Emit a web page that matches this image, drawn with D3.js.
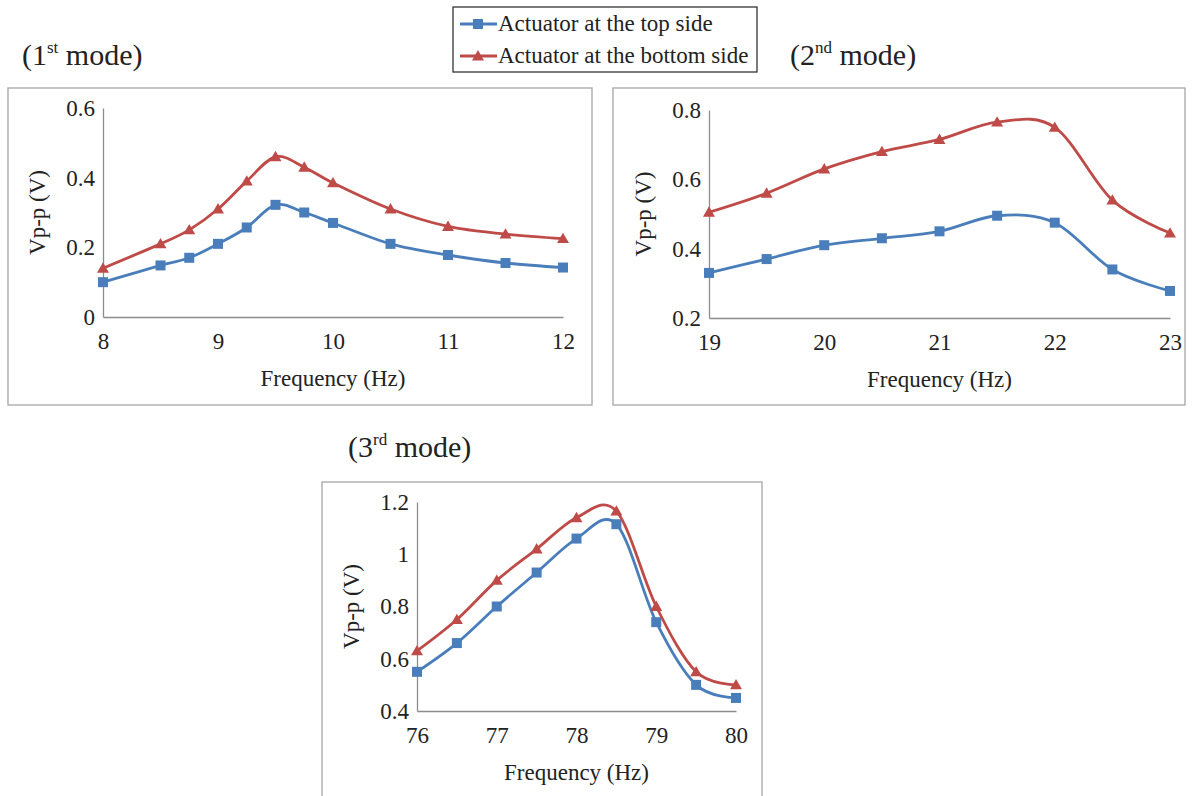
<!DOCTYPE html>
<html>
<head>
<meta charset="utf-8">
<script src="https://cdn.jsdelivr.net/npm/d3@7"></script>
<style>
  body { margin: 0; background: #fff; }
  text { font-family: "Liberation Serif", "Times New Roman", serif; fill: #222; }
</style>
</head>
<body>
<script>
const w = 1192;
const h = 796;
const blue = "#4a7ebb";
const red = "#be4b48";
const serif = "'Liberation Serif', 'Times New Roman', serif";

// 1st mode
const freq1 = [8, 8.5, 8.75, 9, 9.25, 9.5, 9.75, 10, 10.5, 11, 11.5, 12];
const top1 = [0.10, 0.148, 0.17, 0.21, 0.257, 0.322, 0.30, 0.27, 0.21, 0.178, 0.155, 0.142];
const bottom1 = [0.14, 0.21, 0.25, 0.31, 0.39, 0.46, 0.43, 0.385, 0.31, 0.26, 0.238, 0.225];
const xTicks1 = [8, 9, 10, 11, 12];
const yTicks1 = [0, 0.2, 0.4, 0.6];

// 2nd mode
const freq2 = [19, 19.5, 20, 20.5, 21, 21.5, 22, 22.5, 23];
const top2 = [0.33, 0.37, 0.41, 0.43, 0.45, 0.495, 0.475, 0.34, 0.278];
const bottom2 = [0.505, 0.56, 0.63, 0.68, 0.715, 0.765, 0.75, 0.54, 0.445];
const xTicks2 = [19, 20, 21, 22, 23];
const yTicks2 = [0.2, 0.4, 0.6, 0.8];

// 3rd mode
const freq3 = [76, 76.5, 77, 77.5, 78, 78.5, 79, 79.5, 80];
const top3 = [0.55, 0.66, 0.80, 0.93, 1.06, 1.115, 0.74, 0.50, 0.45];
const bottom3 = [0.63, 0.75, 0.90, 1.02, 1.14, 1.165, 0.80, 0.55, 0.50];
const xTicks3 = [76, 77, 78, 79, 80];
const yTicks3 = [0.4, 0.6, 0.8, 1, 1.2];

const seriesNames = ["Actuator at the top side", "Actuator at the bottom side"];

const svg = d3.select("body")
  .append("svg")
  .attr("width", w)
  .attr("height", h);

const fmt = d => String(+d.toFixed(1));

function marker(g, kind, x, y, color) {
  if (kind === "square") {
    g.append("rect")
      .attr("x", x - 5).attr("y", y - 5)
      .attr("width", 10).attr("height", 10)
      .attr("fill", color);
  } else {
    g.append("path")
      .attr("d", d3.symbol(d3.symbolTriangle, 62)())
      .attr("transform", "translate(" + x + "," + (y + 1) + ")")
      .attr("fill", color);
  }
}

function panel(cfg) {
  const g = svg.append("g");

  g.append("rect")
    .attr("x", cfg.box[0]).attr("y", cfg.box[1])
    .attr("width", cfg.box[2]).attr("height", cfg.box[3])
    .attr("fill", "none")
    .attr("stroke", "#a6a6a6")
    .attr("stroke-width", 1.3);

  const x = d3.scaleLinear().domain(cfg.xDomain).range([cfg.left, cfg.right]);
  const y = d3.scaleLinear().domain(cfg.yDomain).range([cfg.bottom, cfg.top]);

  const xAxis = g.append("g")
    .attr("transform", "translate(0," + cfg.bottom + ")")
    .call(d3.axisBottom(x).tickValues(cfg.xTicks).tickSize(0).tickPadding(16).tickFormat(d => d));
  const yAxis = g.append("g")
    .attr("transform", "translate(" + cfg.left + ",0)")
    .call(d3.axisLeft(y).tickValues(cfg.yTicks).tickSize(0).tickPadding(8).tickFormat(fmt));

  [xAxis, yAxis].forEach(a => {
    a.select(".domain").attr("stroke", "#8c8c8c").attr("stroke-width", 1.3);
    a.selectAll("text")
      .style("font-family", serif)
      .style("font-size", "23px")
      .attr("fill", "#222");
  });

  g.append("text")
    .attr("x", (cfg.left + cfg.right) / 2)
    .attr("y", cfg.bottom + 69)
    .attr("text-anchor", "middle")
    .style("font-family", serif)
    .style("font-size", "23px")
    .text("Frequency (Hz)");

  g.append("text")
    .attr("transform", "translate(" + (cfg.left - 58) + "," + ((cfg.top + cfg.bottom) / 2) + ") rotate(-90)")
    .attr("text-anchor", "middle")
    .style("font-family", serif)
    .style("font-size", "23px")
    .text("Vp-p (V)");

  const line = d3.line()
    .x(d => x(d[0]))
    .y(d => y(d[1]))
    .curve(d3.curveCatmullRom.alpha(0));

  const series = [
    { vals: cfg.topVals, color: blue, kind: "square" },
    { vals: cfg.bottomVals, color: red, kind: "triangle" }
  ];

  series.forEach(s => {
    const pts = cfg.freq.map((f, i) => [f, s.vals[i]]);
    g.append("path")
      .attr("d", line(pts))
      .attr("fill", "none")
      .attr("stroke", s.color)
      .attr("stroke-width", 2.8);
    pts.forEach(p => marker(g, s.kind, x(p[0]), y(p[1]), s.color));
  });
}

panel({
  box: [8, 88, 584, 317],
  left: 103, right: 563, top: 108, bottom: 317,
  xDomain: [8, 12], yDomain: [0, 0.6],
  xTicks: xTicks1, yTicks: yTicks1,
  freq: freq1, topVals: top1, bottomVals: bottom1
});

panel({
  box: [613, 88, 572, 317],
  left: 709, right: 1170, top: 110, bottom: 318,
  xDomain: [19, 23], yDomain: [0.2, 0.8],
  xTicks: xTicks2, yTicks: yTicks2,
  freq: freq2, topVals: top2, bottomVals: bottom2
});

panel({
  box: [322, 482, 440, 330],
  left: 417, right: 736, top: 502, bottom: 711,
  xDomain: [76, 80], yDomain: [0.4, 1.2],
  xTicks: xTicks3, yTicks: yTicks3,
  freq: freq3, topVals: top3, bottomVals: bottom3
});

// mode titles
function title(x0, y0, num, sup) {
  const t = svg.append("text")
    .attr("x", x0).attr("y", y0)
    .style("font-family", serif)
    .style("font-size", "30px");
  t.append("tspan").text("(" + num);
  t.append("tspan").style("font-size", "17px").attr("dy", -12).text(sup);
  t.append("tspan").attr("dy", 12).text(" mode)");
}
title(22, 65, "1", "st");
title(790, 65, "2", "nd");
title(348, 457, "3", "rd");

// legend
const legend = svg.append("g");
legend.append("rect")
  .attr("x", 453).attr("y", 7)
  .attr("width", 304).attr("height", 65)
  .attr("fill", "#fff")
  .attr("stroke", "#333")
  .attr("stroke-width", 1.3);

[[blue, "square"], [red, "triangle"]].forEach((s, i) => {
  const yy = 24 + i * 32;
  legend.append("line")
    .attr("x1", 460).attr("x2", 497)
    .attr("y1", yy).attr("y2", yy)
    .attr("stroke", s[0]).attr("stroke-width", 2.8);
  marker(legend, s[1], 478, yy, s[0]);
  legend.append("text")
    .attr("x", 498).attr("y", yy + 7)
    .style("font-family", serif)
    .style("font-size", "23px")
    .text(seriesNames[i]);
});
</script>
</body>
</html>
